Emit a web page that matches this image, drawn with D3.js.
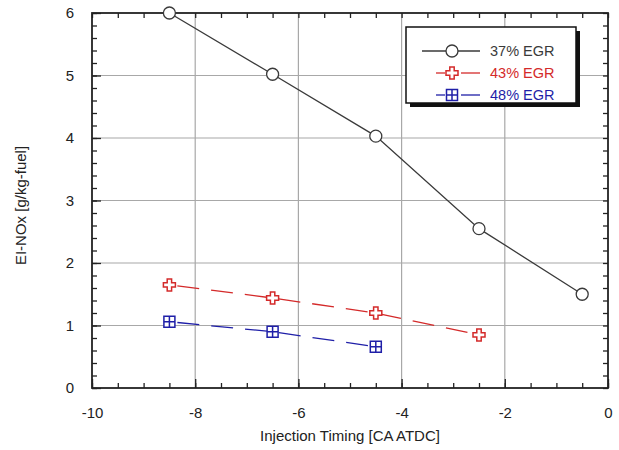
<!DOCTYPE html>
<html>
<head>
<meta charset="utf-8">
<script src="https://cdn.jsdelivr.net/npm/d3@7"></script>
<style>
  body { margin: 0; background: #fff; }
  text { font-family: Arial, "Liberation Sans", sans-serif; }
</style>
</head>
<body>
<div id="chart"></div>
<script>
// injection timing (CA ATDC)
var timing = [-8.5, -6.5, -4.5, -2.5, -0.5];
var egr37 = [6.0, 5.02, 4.03, 2.55, 1.5];
var egr43 = [1.65, 1.44, 1.2, 0.85];
var egr48 = [1.06, 0.9, 0.66];
var seriesNames = ["37% EGR", "43% EGR", "48% EGR"];
var xTicks = [-10, -8, -6, -4, -2, 0];
var yTicks = [0, 1, 2, 3, 4, 5, 6];

var W = 619, H = 450;
var margin = {top: 13, right: 11, bottom: 62, left: 92};

var svg = d3.select("#chart").append("svg")
    .attr("width", W).attr("height", H);

var x = d3.scaleLinear().domain([-10, 0]).range([margin.left, W - margin.right]);
var y = d3.scaleLinear().domain([0, 6]).range([H - margin.bottom, margin.top]);

// plain hyphen labels like the original
var fmt = function(d){ return String(d); };

// grid
var g = svg.append("g");
g.selectAll(".vg").data(xTicks.slice(1, -1)).enter().append("line")
    .attr("x1", function(d){ return x(d); }).attr("x2", function(d){ return x(d); })
    .attr("y1", y(0)).attr("y2", y(6))
    .attr("stroke", "#a8a8a8").attr("stroke-width", 1.2);
g.selectAll(".hg").data(yTicks.slice(1, -1)).enter().append("line")
    .attr("y1", function(d){ return y(d); }).attr("y2", function(d){ return y(d); })
    .attr("x1", x(-10)).attr("x2", x(0))
    .attr("stroke", "#a8a8a8").attr("stroke-width", 1.2);

// axes with inward ticks
var xMinor = d3.range(-10, 0.01, 0.5);
var yMinor = d3.range(0, 6.01, 0.2);
function styleAxis(sel) {
    sel.select(".domain").remove();
    sel.selectAll(".tick line").attr("stroke", "#222").attr("stroke-width", 1.3);
    sel.selectAll("text").attr("font-size", 15).attr("fill", "#222");
}
svg.append("g").attr("transform", "translate(0," + y(0) + ")")
    .call(d3.axisBottom(x).tickValues(xMinor).tickSize(-5).tickFormat(""))
    .call(styleAxis);
svg.append("g").attr("transform", "translate(0," + y(0) + ")")
    .call(d3.axisBottom(x).tickValues(xTicks).tickSize(-9).tickPadding(19).tickFormat(fmt))
    .call(styleAxis);
svg.append("g").attr("transform", "translate(0," + y(6) + ")")
    .call(d3.axisTop(x).tickValues(xMinor).tickSize(-5).tickFormat(""))
    .call(styleAxis);
svg.append("g").attr("transform", "translate(" + x(-10) + ",0)")
    .call(d3.axisLeft(y).tickValues(yMinor).tickSize(-5).tickFormat(""))
    .call(styleAxis);
svg.append("g").attr("transform", "translate(" + x(-10) + ",0)")
    .call(d3.axisLeft(y).tickValues(yTicks).tickSize(-9).tickPadding(18).tickFormat(fmt))
    .call(styleAxis);
svg.append("g").attr("transform", "translate(" + x(0) + ",0)")
    .call(d3.axisRight(y).tickValues(yMinor).tickSize(-5).tickFormat(""))
    .call(styleAxis);

svg.append("rect")
    .attr("x", x(-10)).attr("y", y(6))
    .attr("width", x(0) - x(-10)).attr("height", y(0) - y(6))
    .attr("fill", "none").attr("stroke", "#222").attr("stroke-width", 1.8);

// axis titles
svg.append("text").attr("x", (x(-10) + x(0)) / 2).attr("y", 441)
    .attr("text-anchor", "middle").attr("font-size", 15).attr("fill", "#222")
    .text("Injection Timing [CA ATDC]");
svg.append("text")
    .attr("transform", "translate(26," + (y(3) + 5) + ") rotate(-90)")
    .attr("text-anchor", "middle").attr("font-size", 15).attr("fill", "#222")
    .text("EI-NOx [g/kg-fuel]");

// markers
function circleMark(sel, c) {
    sel.append("circle").attr("r", 6).attr("fill", "#fff")
        .attr("stroke", c).attr("stroke-width", 1.3);
}
function crossMark(sel, c) {
    var a = 2.2, b = 6;
    sel.append("path")
        .attr("d", "M" + -a + "," + -b + "H" + a + "V" + -a + "H" + b + "V" + a + "H" + a +
            "V" + b + "H" + -a + "V" + a + "H" + -b + "V" + -a + "H" + -a + "Z")
        .attr("fill", "#fff").attr("stroke", c).attr("stroke-width", 1.5);
}
function squareMark(sel, c) {
    var s = 5.5;
    sel.append("rect").attr("x", -s).attr("y", -s).attr("width", 2 * s).attr("height", 2 * s)
        .attr("fill", "#fff").attr("stroke", c).attr("stroke-width", 1.5);
    sel.append("path").attr("d", "M0," + -s + "V" + s + "M" + -s + ",0H" + s)
        .attr("stroke", c).attr("stroke-width", 1.5);
}

var series = [
    {name: seriesNames[0], vals: egr37, color: "#3a3a3a", dash: null, mark: circleMark},
    {name: seriesNames[1], vals: egr43, color: "#d42a2a", dash: "22,12", mark: crossMark},
    {name: seriesNames[2], vals: egr48, color: "#1f1fa8", dash: "22,12", mark: squareMark}
];

var line = d3.line()
    .x(function(d){ return x(d[0]); })
    .y(function(d){ return y(d[1]); });

series.forEach(function(s) {
    var pts = s.vals.map(function(v, i){ return [timing[i], v]; });
    svg.append("path").datum(pts)
        .attr("d", line).attr("fill", "none")
        .attr("stroke", s.color).attr("stroke-width", 1.3)
        .attr("stroke-dasharray", s.dash)
        .attr("stroke-dashoffset", s.dash ? -8 : null);
    pts.forEach(function(p) {
        var m = svg.append("g").attr("transform", "translate(" + x(p[0]) + "," + y(p[1]) + ")");
        s.mark(m, s.color);
    });
});

// legend
var lg = svg.append("g").attr("transform", "translate(406,27)");
lg.append("rect").attr("x", 4).attr("y", 4).attr("width", 170).attr("height", 76).attr("fill", "#111");
lg.append("rect").attr("width", 170).attr("height", 76)
    .attr("fill", "#fff").attr("stroke", "#111").attr("stroke-width", 1.5);
series.forEach(function(s, i) {
    var ly = 24 + i * 22;
    if (s.dash) {
        lg.append("line").attr("x1", 30).attr("x2", 39).attr("y1", ly).attr("y2", ly)
            .attr("stroke", s.color).attr("stroke-width", 1.3);
        lg.append("line").attr("x1", 55).attr("x2", 74).attr("y1", ly).attr("y2", ly)
            .attr("stroke", s.color).attr("stroke-width", 1.3);
    } else {
        lg.append("line").attr("x1", 16).attr("x2", 74).attr("y1", ly).attr("y2", ly)
            .attr("stroke", s.color).attr("stroke-width", 1.3);
    }
    var m = lg.append("g").attr("transform", "translate(46," + ly + ")");
    s.mark(m, s.color);
    lg.append("text").attr("x", 84).attr("y", ly + 5)
        .attr("font-size", 14.5).attr("fill", s.color).text(s.name);
});
</script>
</body>
</html>
